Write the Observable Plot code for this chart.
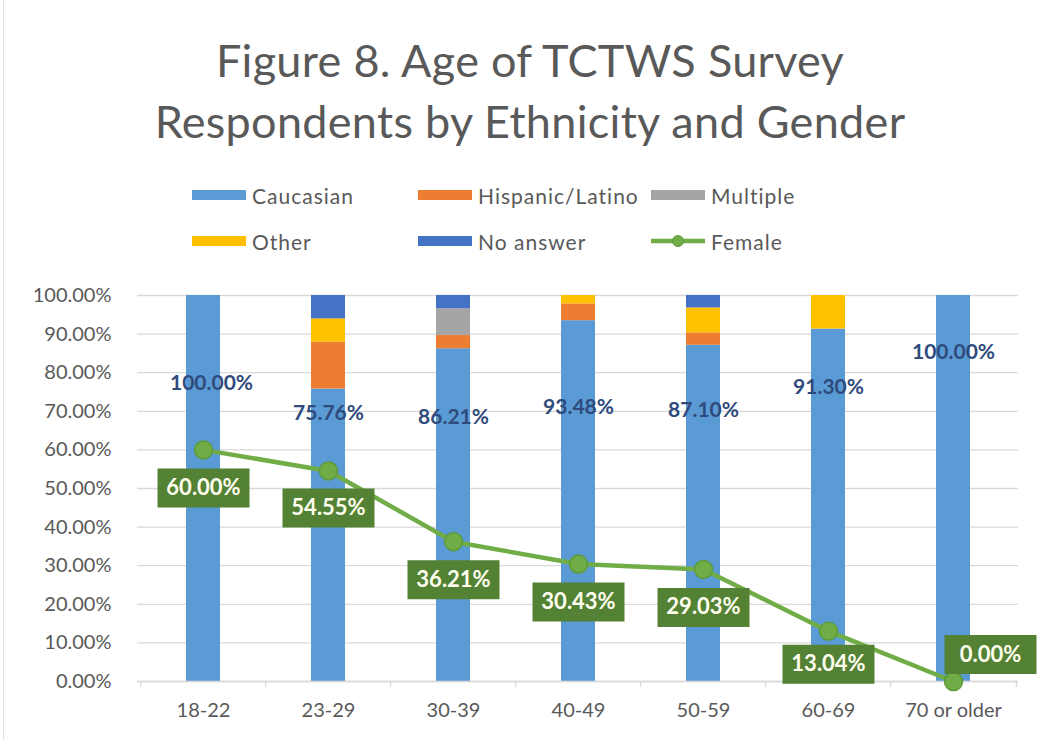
<!DOCTYPE html>
<html>
<head>
<meta charset="utf-8">
<script src="https://cdn.jsdelivr.net/npm/d3@7"></script>
<script src="https://cdn.jsdelivr.net/npm/@observablehq/plot@0.6"></script>
<style>
  html, body { margin: 0; padding: 0; background: #fff; }
  #page { position: relative; width: 1037px; height: 740px; overflow: hidden; font-family: Lato, "Open Sans", sans-serif; }
  #title { position: absolute; left: 20px; width: 1020px; top: 30px; text-align: center; font-size: 45px; line-height: 61px; color: #595959; font-weight: 400; letter-spacing: 0.3px; }
  #legend { position: absolute; left: 192px; top: 172px; display: grid; grid-template-columns: 226px 233px 200px; grid-auto-rows: 46px; font-size: 21px; letter-spacing: 1px; color: #595959; }
  .item { display: flex; align-items: center; }
  .sw { width: 54px; height: 10px; margin-right: 6px; }
  #chart { position: absolute; left: 0; top: 270px; }
  #border { position: absolute; left: 3px; top: 0; width: 1px; height: 740px; background: #e0e0e0; }
</style>
</head>
<body>
<div id="page">
  <div id="border"></div>
  <div id="title">Figure 8. Age of TCTWS Survey<br>Respondents by Ethnicity and Gender</div>
  <div id="legend"></div>
  <div id="chart"></div>
</div>
<script>
// ---- data ----
const ages = ["18-22", "23-29", "30-39", "40-49", "50-59", "60-69", "70 or older"];
const caucasian = [100.00, 75.76, 86.21, 93.48, 87.10, 91.30, 100.00];
const hispanic  = [0, 12.12, 3.45, 4.35, 3.23, 0, 0];
const multiple  = [0, 0, 6.90, 0, 0, 0, 0];
const other     = [0, 6.06, 0, 2.17, 6.45, 8.70, 0];
const noAnswer  = [0, 6.06, 3.45, 0, 3.23, 0, 0];
const female    = [60.00, 54.55, 36.21, 30.43, 29.03, 13.04, 0.00];
const yTicks = [0, 10, 20, 30, 40, 50, 60, 70, 80, 90, 100];

const seriesNames = ["Caucasian", "Hispanic/Latino", "Multiple", "Other", "No answer"];
const seriesValues = [caucasian, hispanic, multiple, other, noAnswer];
const seriesColors = ["#5B9BD5", "#ED7D31", "#A5A5A5", "#FFC000", "#4472C4"];
const femaleColor = "#70AD47";
const femaleBox = "#548235";

// label placement (style offsets, px)
const capDy = [88, 24, 69, 87, 65, 58, 57];
const capDx = [8, 0, 0, 0, 0, 0, 0];
const femDx = [0, 0, 0, 0, 0, 0, 37];
const femDy = [38, 37, 38, 38, 38, 33, -27];

// ---- legend ----
const legend = document.getElementById("legend");
seriesNames.forEach((name, i) => {
  const it = document.createElement("div");
  it.className = "item";
  it.innerHTML = `<div class="sw" style="background:${seriesColors[i]}"></div><span>${name}</span>`;
  legend.appendChild(it);
});
{
  const it = document.createElement("div");
  it.className = "item";
  it.innerHTML = `<svg width="54" height="14" style="margin-right:6px"><line x1="0" x2="54" y1="7" y2="7" stroke="${femaleColor}" stroke-width="4.5"/><circle cx="27" cy="7" r="5.5" fill="${femaleColor}" stroke="#5c9a3a" stroke-width="1"/></svg><span>Female</span>`;
  legend.appendChild(it);
}

// ---- table ----
const rows = [];
ages.forEach((a, i) => {
  seriesNames.forEach((s, k) => {
    rows.push({age: a, eth: s, value: seriesValues[k][i]});
  });
});
const femRows = ages.map((a, i) => ({age: a, value: female[i]}));
const capRows = ages.map((a, i) => ({age: a, value: caucasian[i]}));

const boxSymbol = {
  draw(ctx) { ctx.moveTo(-46, -19.5); ctx.lineTo(46, -19.5); ctx.lineTo(46, 19.5); ctx.lineTo(-46, 19.5); ctx.closePath(); }
};

const fmt = v => v.toFixed(2) + "%";

const capMarks = capRows.map((d, i) => Plot.text([d], {
  x: "age", y: "value", text: dd => fmt(dd.value), dy: capDy[i], dx: capDx[i],
  fill: "#2F4B7C", fontSize: 21, fontWeight: "bold", fontFamily: "Lato"
}));
const femBoxMarks = femRows.map((d, i) => Plot.dot([d], {
  x: "age", y: "value", symbol: boxSymbol, r: 10, fill: femaleBox, stroke: "none",
  dx: femDx[i], dy: femDy[i]
}));
const femTextMarks = femRows.map((d, i) => Plot.text([d], {
  x: "age", y: "value", text: dd => fmt(dd.value), dx: femDx[i], dy: femDy[i],
  fill: "#FFFFF0", fontSize: 22, fontWeight: "bold", fontFamily: "Lato"
}));

const W = 1037, H = 470;
const chart = Plot.plot({
  width: W, height: H,
  marginTop: 25, marginBottom: 59, marginLeft: 137, marginRight: 19,
  style: {fontFamily: "Lato", fontSize: "20px", color: "#595959", background: "transparent", overflow: "visible"},
  x: {type: "band", domain: ages, paddingInner: 0.73, paddingOuter: 0.365, label: null},
  y: {domain: [0, 100], label: null},
  color: {domain: seriesNames, range: seriesColors},
  marks: [
    Plot.gridY(yTicks, {stroke: "#D9D9D9", strokeOpacity: 1, strokeWidth: 1.3}),
    Plot.barY(rows, {x: "age", y: "value", fill: "eth", order: seriesNames}),
    Plot.ruleY([0], {stroke: "#D9D9D9", strokeWidth: 1.3}),
    Plot.ruleX(ages, {x: d => d, y1: 0, y2: -1.6, dx: -62.9, stroke: "#D9D9D9", strokeWidth: 1.3}),
    Plot.ruleX([ages[ages.length - 1]], {x: d => d, y1: 0, y2: -1.6, dx: 62.9, stroke: "#D9D9D9", strokeWidth: 1.3}),
    Plot.axisY(yTicks, {tickSize: 0, tickPadding: 26, tickFormat: d => d.toFixed(2) + "%", fill: "#595959", fontSize: 20, letterSpacing: 0.5}),
    Plot.axisX(ages, {tickSize: 0, tickPadding: 21, fill: "#595959", fontSize: 20, letterSpacing: 0.3}),
    ...capMarks,
    Plot.line(femRows, {x: "age", y: "value", stroke: femaleColor, strokeWidth: 4.5}),
    Plot.dot(femRows, {x: "age", y: "value", r: 9, fill: femaleColor, stroke: "#5c9a3a", strokeWidth: 1.5}),
    ...femBoxMarks,
    ...femTextMarks
  ]
});
document.getElementById("chart").appendChild(chart);
</script>
</body>
</html>
